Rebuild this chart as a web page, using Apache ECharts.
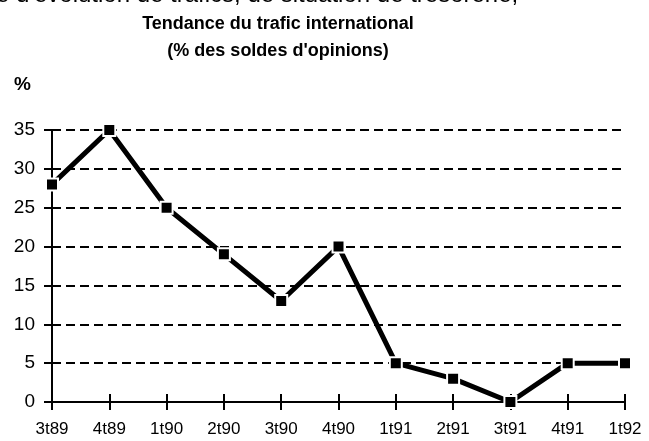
<!DOCTYPE html>
<html>
<head>
<meta charset="utf-8">
<script src="https://cdn.jsdelivr.net/npm/echarts@6/dist/echarts.min.js"></script>
<style>
  html, body { margin: 0; padding: 0; background: #fff; }
  #chart { width: 649px; height: 441px; }
</style>
</head>
<body>
<div id="chart"></div>
<script>
var trimestres = ['3t89', '4t89', '1t90', '2t90', '3t90', '4t90', '1t91', '2t91', '3t91', '4t91', '1t92'];
var soldes = [28, 35, 25, 19, 13, 20, 5, 3, 0, 5, 5];
var yTicks = [0, 5, 10, 15, 20, 25, 30, 35];

var police = '"Liberation Sans", Arial, sans-serif';

var chartDom = document.getElementById('chart');
var myChart = echarts.init(chartDom);
var option;

option = {
  backgroundColor: '#fff',
  animation: false,
  title: {
    text: 'Tendance du trafic international\n(% des soldes d\'opinions)',
    left: 273,
    top: 6,
    textAlign: 'center',
    textStyle: {
      fontFamily: police,
      fontSize: 18,
      fontWeight: 'bold',
      color: '#000',
      lineHeight: 27
    }
  },
  graphic: [
    {
      type: 'text',
      left: -4,
      top: -17,
      style: {
        text: 'e d\'évolution de trafics, de situation de trésorerie,',
        font: '24px "Liberation Sans", Arial, sans-serif',
        fill: '#000'
      }
    }
  ],
  grid: {
    left: 52,
    right: 24,
    top: 130,
    bottom: 39
  },
  xAxis: [
    {
      type: 'category',
      data: trimestres,
      boundaryGap: false,
      axisLine: { lineStyle: { color: '#000', width: 2 } },
      axisTick: { length: 8, lineStyle: { color: '#000', width: 2 } },
      axisLabel: { fontFamily: police, fontSize: 17, color: '#000', margin: 19 },
      splitLine: { show: false }
    },
    {
      type: 'category',
      data: trimestres,
      boundaryGap: false,
      position: 'bottom',
      axisLine: { show: false },
      axisTick: { inside: true, length: 8, lineStyle: { color: '#000', width: 2 } },
      axisLabel: { show: false },
      splitLine: { show: false }
    }
  ],
  yAxis: {
    type: 'value',
    min: yTicks[0],
    max: yTicks[yTicks.length - 1],
    interval: 5,
    name: '%',
    nameLocation: 'end',
    nameGap: 36,
    nameTextStyle: {
      fontFamily: police,
      fontSize: 19,
      fontWeight: 'bold',
      color: '#000',
      align: 'right',
      padding: [0, 21, 0, 0]
    },
    axisLine: { show: true, lineStyle: { color: '#000', width: 2 } },
    axisTick: { show: true, length: 8, lineStyle: { color: '#000', width: 2 } },
    axisLabel: { fontFamily: police, fontSize: 19, color: '#000', margin: 17 },
    splitLine: {
      show: true,
      lineStyle: { color: '#000', width: 2, type: [9, 5] }
    }
  },
  series: [
    {
      name: 'trafic',
      type: 'line',
      data: soldes,
      xAxisIndex: 0,
      symbol: 'rect',
      symbolSize: 12,
      showAllSymbol: true,
      lineStyle: { color: '#000', width: 5 },
      itemStyle: { color: '#000', borderColor: '#fff', borderWidth: 2 },
      z: 5
    }
  ]
};

option && myChart.setOption(option);
</script>
</body>
</html>
